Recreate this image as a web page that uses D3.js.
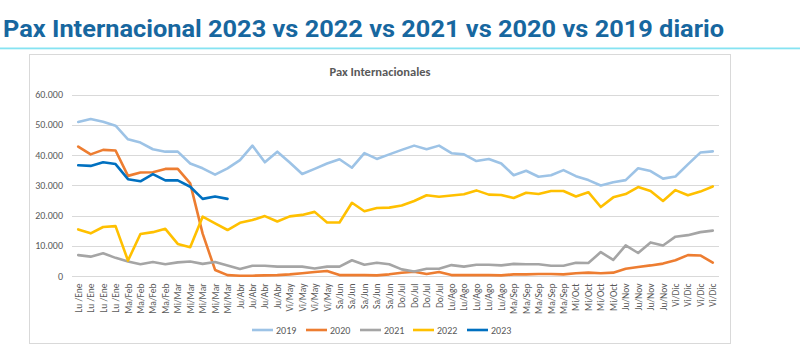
<!DOCTYPE html>
<html>
<head>
<meta charset="utf-8">
<script src="https://cdn.jsdelivr.net/npm/d3@7"></script>
<style>
  html, body { margin: 0; padding: 0; background: #fff; }
  svg { display: block; }
</style>
</head>
<body>
<svg id="chart" width="800" height="355"></svg>
<script>
// ---------- data ----------
const months = ["Ene","Feb","Mar","Abr","May","Jun","Jul","Ago","Sep","Oct","Nov","Dic"];
const weekdays = ["Lu ","Ma","Mi","Ju","Vi","Sa","Do","Lu","Ma","Mi","Ju","Vi"];
const weeksPerMonth = [4,4,5,4,4,5,4,5,5,4,4,4];
const categories = [];
months.forEach((m, k) => { for (let j = 0; j < weeksPerMonth[k]; j++) categories.push(weekdays[k] + "/" + m); });

const years = ["2019","2020","2021","2022","2023"];
const s2019 = [50900,51900,51000,49700,45200,44100,41900,41100,41100,37200,
               35600,33500,35600,38300,43100,37600,41100,37500,33700,35400,
               37200,38600,35800,40600,38700,40200,41700,43100,41900,43100,
               40600,40200,38000,38700,37200,33300,34800,32800,33300,35000,
               33000,31700,29900,31000,31700,35600,34700,32200,32900,36900,
               40800,41200];
const s2020 = [42800,40200,41700,41500,33100,34200,34300,35400,35400,30600,
               14000,2000,300,100,100,200,300,550,900,1300,
               1650,300,300,300,200,550,1100,1400,650,1300,
               300,300,300,300,200,550,550,650,650,550,
               900,1100,900,1100,2400,3000,3500,4100,5200,6900,
               6800,4400];
const s2021 = [6900,6400,7500,6000,4800,3900,4600,3900,4500,4800,
               4000,4600,3500,2300,3400,3400,3100,3100,3100,2500,
               3100,3100,5200,3700,4400,3900,2200,1500,2400,2400,
               3600,3100,3700,3700,3500,4000,3900,3900,3400,3400,
               4400,4300,7900,5300,10100,7600,11100,10100,13000,13500,
               14500,15000];
const s2022 = [15400,14100,16200,16500,5100,13900,14500,15600,10600,9500,
               19600,17400,15200,17600,18500,19800,18000,19700,20200,21200,
               17700,17700,24200,21400,22500,22600,23300,24800,26700,26200,
               26600,27000,28300,26900,26800,25800,27500,27100,28100,28100,
               26300,27700,22800,26000,27100,29400,28100,24800,28400,26700,
               27900,29600];
const s2023 = [36600,36400,37600,37000,32000,31300,33700,31600,31600,29500,
               25500,26300,25500];
const yTicks = [0,10000,20000,30000,40000,50000,60000];

const seriesValues = [s2019, s2020, s2021, s2022, s2023];
const colors = ["#9dc3e6","#ed7d31","#a5a5a5","#ffc000","#0070c0"];

// ---------- layout ----------
const svg = d3.select("#chart");
const font = "Calibri, Carlito, 'Liberation Sans Narrow', 'Liberation Sans', Arial, sans-serif";
const textGray = "#595959";

// page title
svg.append("text")
  .attr("x", 3).attr("y", 37)
  .attr("textLength", 721).attr("lengthAdjust", "spacingAndGlyphs")
  .style("font-family", "Roboto, 'Noto Sans', sans-serif")
  .style("font-weight", "700").style("font-size", "23px")
  .style("fill", "#17679f")
  .text("Pax Internacional 2023 vs 2022 vs 2021 vs 2020 vs 2019 diario");

svg.append("rect").attr("x", 0).attr("y", 47.5).attr("width", 800).attr("height", 1.8)
  .attr("fill", "#86e3f2");

// chart frame
svg.append("rect").attr("x", 29.5).attr("y", 54.5).attr("width", 701).attr("height", 289)
  .attr("fill", "#fff").attr("stroke", "#d9d9d9").attr("stroke-width", 1);

svg.append("text")
  .attr("x", 380).attr("y", 76).attr("text-anchor", "middle")
  .style("font-family", font).style("font-weight", "700").style("font-size", "12.5px")
  .style("fill", textGray)
  .text("Pax Internacionales");

const x = d3.scalePoint().domain(d3.range(categories.length)).range([72, 719]).padding(0.5);
const y = d3.scaleLinear().domain([0, 60000]).range([276, 94.5]);

// gridlines
svg.append("g").selectAll("line").data(yTicks.filter(d => d > 0)).join("line")
  .attr("x1", 72).attr("x2", 719)
  .attr("y1", d => Math.round(y(d)) + 0.5).attr("y2", d => Math.round(y(d)) + 0.5)
  .attr("stroke", "#d9d9d9").attr("stroke-width", 1);

// y axis labels
const fmt = d => d === 0 ? "0" : d3.format(",")(d).replace(/,/g, ".");
const yAxis = d3.axisLeft(y).tickValues(yTicks).tickFormat(fmt).tickSize(0).tickPadding(8);
const gy = svg.append("g").attr("transform", "translate(71,0)").call(yAxis);
gy.select(".domain").remove();
gy.selectAll("text").style("font-family", font).style("font-size", "10px").style("fill", textGray);

// x axis
const xAxis = d3.axisBottom(x).tickFormat(i => categories[i]).tickSize(0).tickPadding(0);
const gx = svg.append("g").attr("transform", `translate(0,${Math.round(y(0)) + 0.5})`).call(xAxis);
gx.select(".domain").attr("d", "M72,0H719").attr("stroke", "#d9d9d9");
gx.selectAll("text")
  .attr("transform", "rotate(-90)")
  .attr("x", -7).attr("y", 0).attr("dy", "0.32em")
  .attr("text-anchor", "end")
  .style("font-family", font).style("font-size", "9.5px").style("fill", textGray);

// lines
const line = d3.line().x((d, i) => x(i)).y(d => y(d)).curve(d3.curveLinear);
svg.append("g").selectAll("path").data(seriesValues).join("path")
  .attr("d", d => line(d))
  .attr("fill", "none")
  .attr("stroke", (d, i) => colors[i])
  .attr("stroke-width", 2.6)
  .attr("stroke-linejoin", "round")
  .attr("stroke-linecap", "round");

// legend
const legendX = [252, 306, 360, 413, 467];
const lg = svg.append("g").selectAll("g").data(years).join("g")
  .attr("transform", (d, i) => `translate(${legendX[i]},330)`);
lg.append("line").attr("x1", 0).attr("x2", 21).attr("y1", 0).attr("y2", 0)
  .attr("stroke", (d, i) => colors[i]).attr("stroke-width", 2.6);
lg.append("text").attr("x", 24).attr("y", 0).attr("dy", "0.35em")
  .style("font-family", font).style("font-size", "10px").style("fill", textGray)
  .text(d => d);
</script>
</body>
</html>
